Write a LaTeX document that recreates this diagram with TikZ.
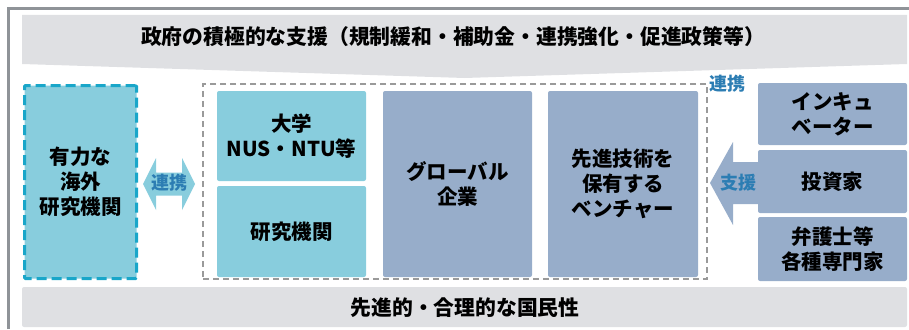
\documentclass[tikz,border=0pt]{standalone}
\usepackage{fontspec}
\setmainfont{Noto Sans CJK JP}
\definecolor{cyanfill}{HTML}{88CDDD}
\definecolor{bluegray}{HTML}{97ADCA}
\definecolor{bannergray}{HTML}{DFE0E3}
\definecolor{framegray}{HTML}{8F9398}
\definecolor{cyanline}{HTML}{19A6C9}
\definecolor{dashgray}{HTML}{9A9A9A}
\definecolor{labelblue}{HTML}{2C7DB3}
\begin{document}
\begin{tikzpicture}[x=1pt,y=-1pt,
  txt/.style={font=\fontsize{20.5}{25}\selectfont\bfseries, align=center, text=black},
  box/.style={txt, rounded corners=2pt, inner sep=0pt, draw=none},
  cyanbox/.style={box, fill=cyanfill},
  graybox/.style={box, fill=bluegray},
  lbl/.style={font=\fontsize{18}{20}\selectfont\bfseries, text=labelblue, inner sep=0pt},
  bannertxt/.style={font=\fontsize{20.8}{24}\selectfont\bfseries, text=black, inner sep=0pt}]
\useasboundingbox (0,0) rectangle (909,329);
% outer frame
\draw[framegray, line width=2.5pt] (8.5,329) -- (8.5,8.5) -- (909,8.5);
% top banner
\fill[bannergray] (22,15) -- (907,15) -- (907,64) -- (464.5,78) -- (22,64) -- cycle;
\node[bannertxt] (gov) at (453,37) {政府の積極的な支援（規制緩和・補助金・連携強化・促進政策等）};
% bottom banner
\node[box, fill=bannergray, minimum width=885pt, minimum height=40pt] (base) at (464.5,307) {};
\node[bannertxt] (basetxt) at (465,308) {先進的・合理的な国民性};
% overseas box
\node[cyanbox, rounded corners=1pt, draw=cyanline, line width=3pt, dash pattern=on 10pt off 5pt,
  minimum width=112pt, minimum height=193pt] (overseas) at (80.5,182) {有力な\\海外\\研究機関};
% central dashed group
\node[draw=dashgray, line width=1.3pt, dash pattern=on 6pt off 4pt, minimum width=504pt, minimum height=195pt, inner sep=0pt] (group) at (455,181.5) {};
\node[cyanbox, minimum width=149pt, minimum height=90pt] (univ) at (291.5,136) {大学\\NUS・NTU等};
\node[cyanbox, minimum width=149pt, minimum height=91pt] (inst) at (291.5,231.5) {研究機関};
\node[graybox, minimum width=149pt, minimum height=186pt] (global) at (457.5,184) {グローバル\\企業};
\node[graybox, minimum width=150pt, minimum height=186pt] (venture) at (623,184) {先進技術を\\保有する\\ベンチャー};
% right boxes
\node[graybox, minimum width=149pt, minimum height=62pt] (incub) at (832.5,114) {インキュ\\ベーター};
\node[graybox, minimum width=149pt, minimum height=63pt] (investor) at (832.5,181.5) {投資家};
\node[graybox, minimum width=149pt, minimum height=64pt] (experts) at (832.5,249) {弁護士等\\各種専門家};
% double arrow between overseas and group
\fill[cyanfill] (143,184) -- (156,158) -- (156,172.5) -- (182,172.5) -- (182,158) -- (195,184)
  -- (182,210) -- (182,195.5) -- (156,195.5) -- (156,210) -- cycle;
\node[lbl] (linkL) at (169,183) {連携};
% support arrow from right boxes to group
\fill[bluegray] (710,183) -- (733,142) -- (733,162) -- (758,162) -- (758,204) -- (733,204) -- (733,225) -- cycle;
\node[lbl] (support) at (738,183) {支援};
% top label
\node[lbl] (linkR) at (727,84) {連携};
\end{tikzpicture}
\end{document}
